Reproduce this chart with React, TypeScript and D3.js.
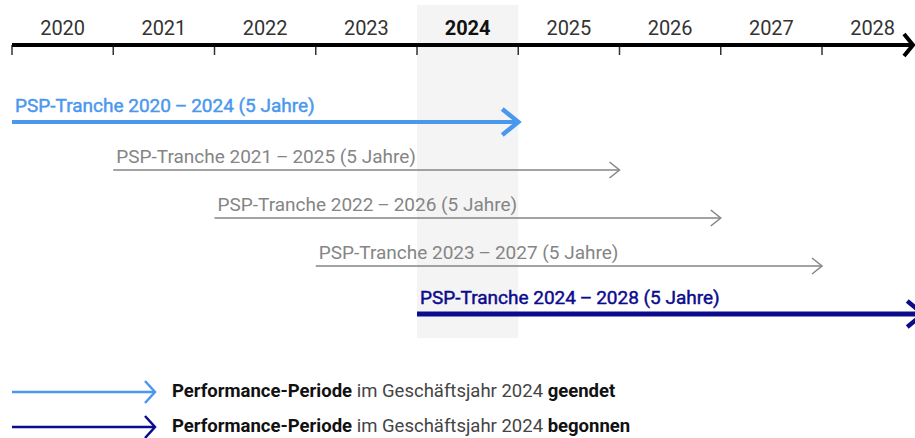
import * as d3 from "d3"

const years = [2020, 2021, 2022, 2023, 2024, 2025, 2026, 2027, 2028]
const currentYear = 2024

const trancheStarts = [2020, 2021, 2022, 2023, 2024]
const trancheLength = 5
const trancheKinds = ["ended", "running", "running", "running", "started"]

const legendKinds = ["ended", "started"]
const legendEnds = ["geendet", "begonnen"]

const colors: Record<string, string> = {
  ended: "#4a98ee",
  running: "#858585",
  started: "#0b0b8e",
}

const W = 915
const H = 438
const FONT = "Roboto, 'Noto Sans', sans-serif"

function chevron(x: number, y: number, back: number, half: number) {
  return `M${x - back},${y - half}L${x},${y}L${x - back},${y + half}`
}

export default function App() {
  const x = d3.scaleLinear().domain([2020, 2028]).range([12, 822])
  const y = d3
    .scalePoint<number>()
    .domain(trancheStarts)
    .range([122, 314])
  const legendY = d3.scalePoint<string>().domain(legendKinds).range([392, 427])

  const axisY = 45
  const axisEnd = 913

  return (
    <svg
      width={W}
      height={H}
      style={{ position: "absolute", left: 0, top: 0, fontFamily: FONT }}
    >
      <rect width={W} height={H} fill="#fff" />
      {/* highlighted business year */}
      <rect
        x={x(currentYear)}
        y={5}
        width={x(currentYear + 1) - x(currentYear)}
        height={333}
        fill="#f4f4f4"
      />

      {/* timeline axis */}
      {years.map((yr) => (
        <line
          key={"t" + yr}
          x1={x(yr)}
          x2={x(yr)}
          y1={axisY}
          y2={axisY + 10}
          stroke="#333"
          strokeWidth={1.5}
        />
      ))}
      <line x1={x(2020)} x2={axisEnd} y1={axisY} y2={axisY} stroke="#000" strokeWidth={4} />
      <path
        d={chevron(axisEnd, axisY, 9, 11)}
        fill="none"
        stroke="#000"
        strokeWidth={4}
      />
      {years.map((yr) => (
        <text
          key={"l" + yr}
          x={x(yr + 0.5)}
          y={35}
          textAnchor="middle"
          fontSize={20}
          fontWeight={yr === currentYear ? 700 : 400}
          fill={yr === currentYear ? "#111" : "#333"}
        >
          {yr}
        </text>
      ))}

      {/* tranches */}
      {trancheStarts.map((s, i) => {
        const kind = trancheKinds[i]
        const bold = kind !== "running"
        const x0 = x(s)
        const x1 = x(s + trancheLength)
        const yy = y(s) as number
        const sw = kind === "started" ? 5 : kind === "ended" ? 4 : 1.5
        return (
          <g key={"tr" + s}>
            <text
              x={x0 + 3}
              y={yy - (bold ? 10 : 7)}
              fontSize={19}
              fill={colors[kind]}
              stroke={bold ? colors[kind] : "none"}
              strokeWidth={bold ? 0.45 : 0}
            >
              {`PSP-Tranche ${s}\u2009\u2013\u2009${s + trancheLength - 1} (${trancheLength} Jahre)`}
            </text>
            <line x1={x0} x2={x1 - sw / 2} y1={yy} y2={yy} stroke={colors[kind]} strokeWidth={sw} />
            <path
              d={bold ? chevron(x1, yy, 16, 13) : chevron(x1, yy, 10, 8)}
              fill="none"
              stroke={colors[kind]}
              strokeWidth={bold ? 4.5 : 1.5}
            />
          </g>
        )
      })}

      {/* legend */}
      {legendKinds.map((k, i) => {
        const ly = legendY(k) as number
        return (
          <g key={"lg" + k}>
            <line x1={12} x2={154} y1={ly} y2={ly} stroke={colors[k]} strokeWidth={2.5} />
            <path d={chevron(155, ly, 10, 11)} fill="none" stroke={colors[k]} strokeWidth={2.5} />
            <text x={172} y={ly + 5} fontSize={18.5} fill="#444">
              <tspan fontWeight={700} fill="#111">Performance-Periode</tspan>
              <tspan> im Geschäftsjahr 2024 </tspan>
              <tspan fontWeight={700} fill="#111">{legendEnds[i]}</tspan>
            </text>
          </g>
        )
      })}
    </svg>
  )
}
